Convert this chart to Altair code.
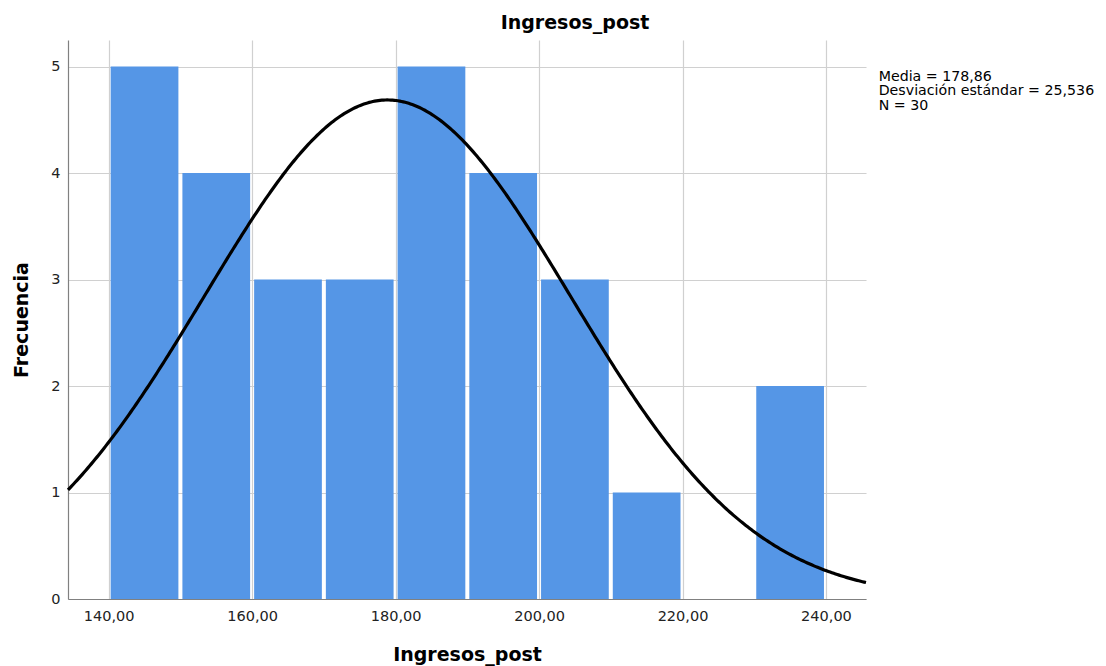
import altair as alt
import pandas as pd

# Histogram data (bins of width 10)
bin_starts = [140, 150, 160, 170, 180, 190, 200, 210, 220, 230]
counts = [5, 4, 3, 3, 5, 4, 3, 1, 0, 2]
bin_width = 10

# Summary statistics shown in the chart
media = 178.86
desv = 25.536
n_total = 30

x_ticks = [140, 160, 180, 200, 220, 240]
y_ticks = [0, 1, 2, 3, 4, 5]

stats_lines = ["Media = 178,86", "Desviación estándar = 25,536", "N = 30"]

FONT = "DejaVu Sans"

bars_df = pd.DataFrame({"start": bin_starts, "count": counts})

x_scale = alt.Scale(domain=[134.33, 245.58], nice=False, zero=False)
y_scale = alt.Scale(domain=[0, 5.25], nice=False)

x_axis = alt.Axis(
    values=x_ticks,
    labelExpr="replace(format(datum.value, '.2f'), '.', ',')",
    title="Ingresos_post",
    titleY=61,
    titleBaseline="alphabetic",
    labelPadding=10,
)
y_axis = alt.Axis(
    values=y_ticks,
    format="d",
    title="Frecuencia",
    titleX=-41,
    titleBaseline="alphabetic",
    labelPadding=8,
)

bars = alt.Chart(bars_df).transform_calculate(
    end=f"datum.start + {bin_width}"
).mark_bar(color="#5596e6", xOffset=2, x2Offset=-2).encode(
    x=alt.X("start:Q", scale=x_scale, axis=x_axis),
    x2="end:Q",
    y=alt.Y("count:Q", scale=y_scale, axis=y_axis),
    y2=alt.datum(0),
)

curve = alt.Chart(alt.sequence(134.33, 245.6, 0.25, as_="x")).transform_calculate(
    y=f"{n_total} * {bin_width} / ({desv} * sqrt(2 * PI)) * exp(-pow(datum.x - {media}, 2) / (2 * {desv} * {desv}))"
).mark_line(color="black", strokeWidth=3.2).encode(
    x=alt.X("x:Q", scale=x_scale),
    y=alt.Y("y:Q", scale=y_scale),
)

text_layers = []
for i, line in enumerate(stats_lines):
    text_layers.append(
        alt.Chart(pd.DataFrame({"label": [line]})).mark_text(
            align="left", baseline="alphabetic", font=FONT, fontSize=14.2,
            color="black"
        ).encode(
            x=alt.value(810.7),
            y=alt.value(40.7 + 14.7 * i),
            text="label:N",
        )
    )

chart = alt.layer(bars, curve, *text_layers).properties(
    width=798,
    height=559,
    padding={"left": 60, "top": 32, "right": 232, "bottom": 67},
    autosize=alt.AutoSizeParams(type="none"),
    title=alt.Title("Ingresos_post", dx=108, offset=7),
).configure_view(
    stroke=None
).configure_axis(
    zindex=1,
    grid=True,
    gridColor="#d0d0d0",
    gridWidth=1.2,
    domainColor="#808080",
    domainWidth=1.2,
    tickSize=0,
    labelFont=FONT,
    labelFontSize=14.5,
    labelColor="#222222",
    titleFont=FONT,
    titleFontSize=19,
    titleFontWeight="bold",
    titleColor="black",
).configure_title(
    font=FONT,
    fontSize=19,
    fontWeight="bold",
    color="black",
    anchor="middle",
)

chart.save("out.html", embed_options={"renderer": "svg", "actions": False})
